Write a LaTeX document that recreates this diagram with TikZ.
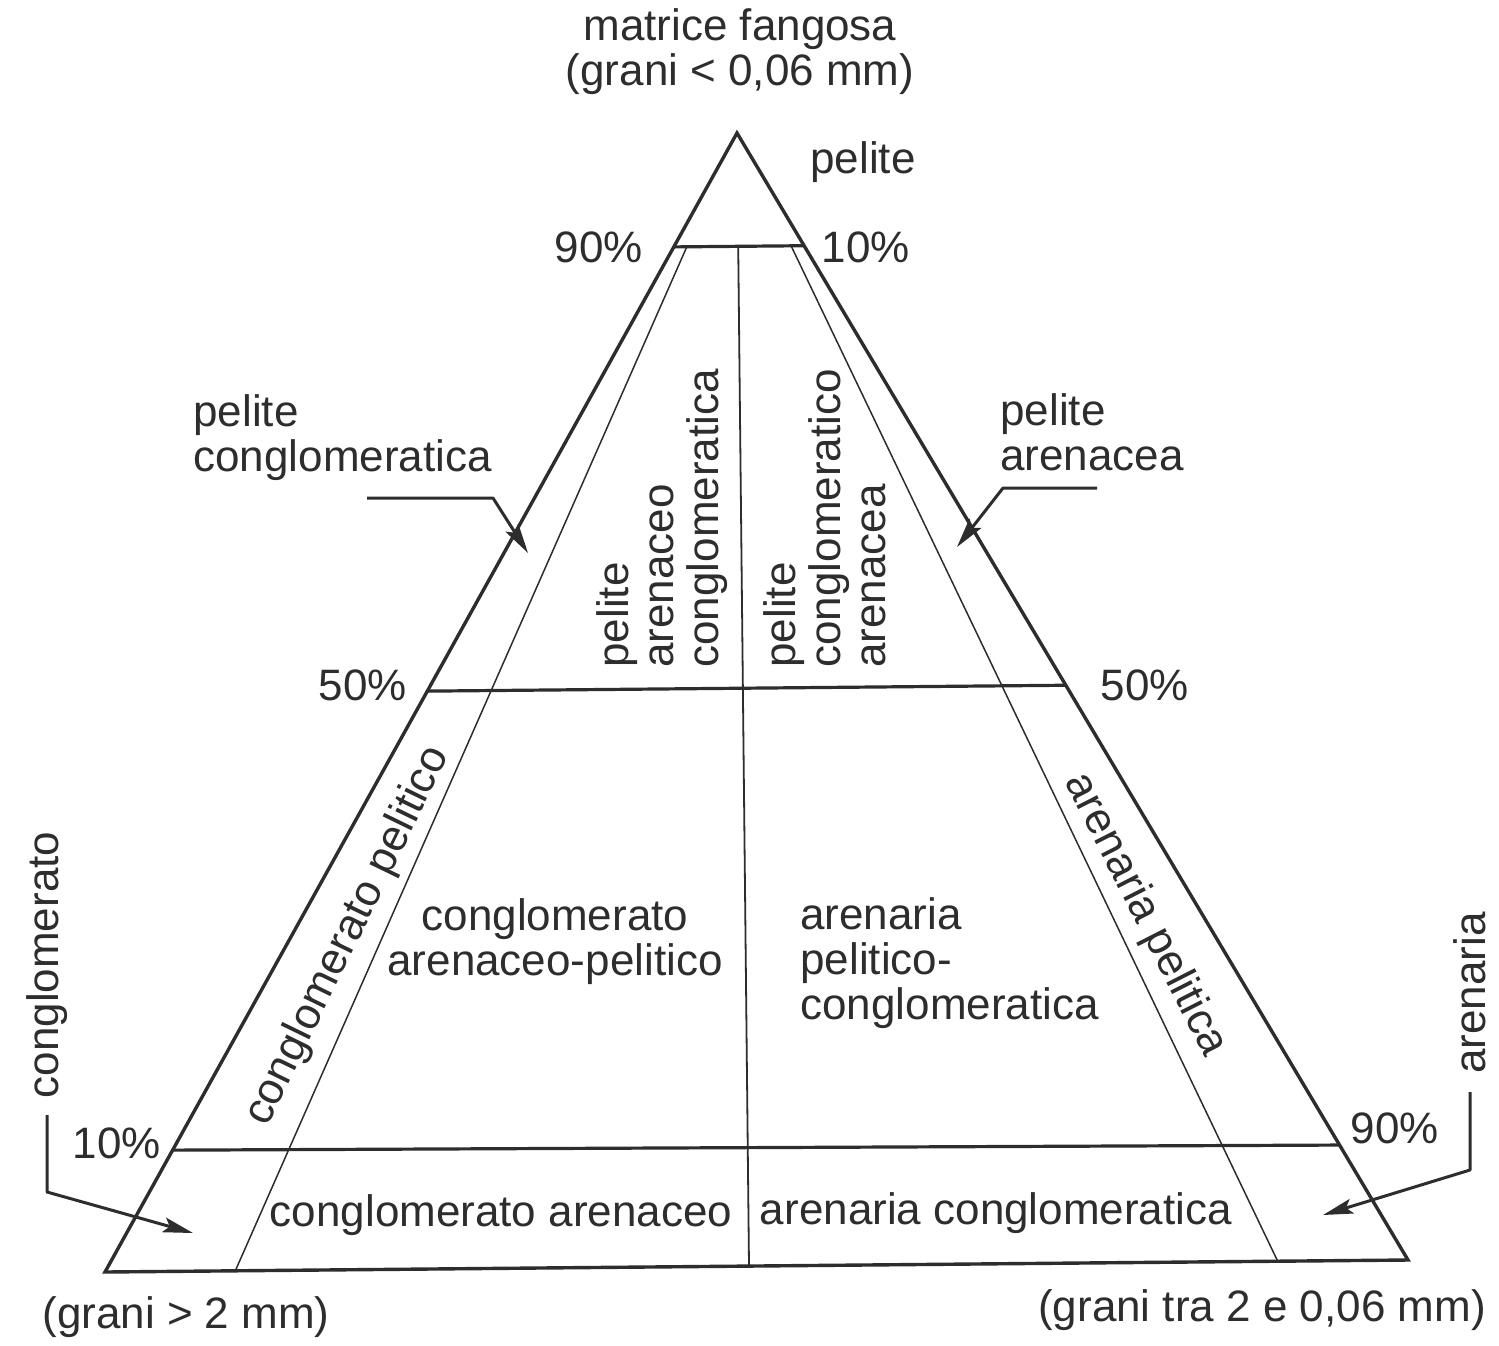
\documentclass[tikz,border=0pt]{standalone}
\usepackage{fontspec}
\setmainfont{Liberation Sans}
\usetikzlibrary{calc,arrows.meta}
\definecolor{ink}{RGB}{45,45,45}
\begin{document}
\begin{tikzpicture}[x=0.5pt,y=-0.5pt,
  edge/.style={draw=ink, line width=1.7pt, line join=miter},
  divider/.style={draw=ink, line width=1.6pt},
  fine/.style={draw=ink, line width=0.75pt},
  axis/.style={draw=ink, line width=0.9pt},
  lbl/.style={text=ink, font=\fontsize{22}{22.5}\selectfont, inner sep=0pt},
  pointer/.style={draw=ink, line width=1.5pt, line join=round, -{Stealth[length=15pt,width=7.5pt,inset=3pt]}}
]
\useasboundingbox (0,0) rectangle (1499,1345);
% corners
\coordinate (A) at (737,133);
\coordinate (B) at (105,1272);
\coordinate (C) at (1408,1260);
\coordinate (P1) at ($(B)!0.1!(C)$);
\coordinate (P2) at ($(B)!0.9!(C)$);
\coordinate (M) at (749,1266);
\coordinate (L90) at ($(A)!0.1!(B)$);
\coordinate (R90) at ($(A)!0.1!(C)$);
\coordinate (L50) at ($(A)!0.49!(B)$);
\coordinate (R50) at ($(A)!0.49!(C)$);
\coordinate (L10) at ($(A)!0.893!(B)$);
\coordinate (R10) at ($(A)!0.898!(C)$);
\coordinate (I1) at ($(A)!0.1!(P1)$);
\coordinate (I2) at ($(A)!0.1!(P2)$);
\coordinate (Mt) at ($(A)!0.1!(M)$);
% lines
\draw[fine] (I1) -- (P1);
\draw[fine] (I2) -- (P2);
\draw[axis] (Mt) -- (M);
\draw[divider] (L90) -- (R90);
\draw[divider] (L50) -- (R50);
\draw[divider] (L10) -- (R10);
\draw[edge] (A) -- (B) -- (C) -- cycle;
% top labels
\node[lbl, align=center] (top) at (740,52) {matrice fangosa\\(grani < 0,06 mm)};
\node[lbl] (pel) at (863,162) {pelite};
\node[lbl] (p90a) at (599,247) {90\%};
\node[lbl] (p10a) at (866,247) {10\%};
\node[lbl] (p50l) at (363,685) {50\%};
\node[lbl] (p50r) at (1145,685) {50\%};
\node[lbl] (p10b) at (117,1143) {10\%};
\node[lbl] (p90b) at (1395,1128) {90\%};
% side labels with arrows
\node[lbl, align=left, anchor=west] (pc) at (193,438) {pelite\\conglomeratica};
\node[lbl, align=left, anchor=west] (pa) at (1000,432) {pelite\\arenacea};
\node[lbl, rotate=90] (cg) at (47,965) {conglomerato};
\node[lbl, rotate=90] (ar) at (1470,993) {arenaria};
\coordinate (a1s) at (367,498);
\coordinate (a1k) at (493,498);
\coordinate (a1e) at (528,553);
\coordinate (a2s) at (1097,488);
\coordinate (a2k) at (1003,488);
\coordinate (a2e) at (957,547);
\coordinate (a3s) at (47,1115);
\coordinate (a3k) at (47,1192);
\coordinate (a3e) at (193,1233);
\coordinate (a4s) at (1470,1092);
\coordinate (a4k) at (1470,1170);
\coordinate (a4e) at (1323,1215);
\draw[pointer] (a1s) -- (a1k) -- (a1e);
\draw[pointer] (a2s) -- (a2k) -- (a2e);
\draw[pointer] (a3s) -- (a3k) -- (a3e);
\draw[pointer] (a4s) -- (a4k) -- (a4e);
% field labels
\node[lbl, rotate=90, align=left, anchor=west] (f1) at (662,668) {pelite\\arenaceo\\conglomeratica};
\node[lbl, rotate=90, align=left, anchor=west] (f2) at (825,668) {pelite\\conglomeratico\\arenacea};
\node[lbl, align=center] (f3) at (555,942) {conglomerato\\arenaceo-pelitico};
\node[lbl, align=left, anchor=west] (f4) at (800,963) {arenaria\\pelitico-\\conglomeratica};
\node[lbl, rotate=64] (f5) at (348,936) {conglomerato pelitico};
\node[lbl, rotate=-63] (f6) at (1145,915) {arenaria pelitica};
\node[lbl] (f7) at (501,1215) {conglomerato arenaceo};
\node[lbl] (f8) at (996,1213) {arenaria conglomeratica};
% bottom labels
\node[lbl] (gb) at (186,1317) {(grani > 2 mm)};
\node[lbl] (gc) at (1262,1310) {(grani tra 2 e 0,06 mm)};
\end{tikzpicture}
\end{document}
